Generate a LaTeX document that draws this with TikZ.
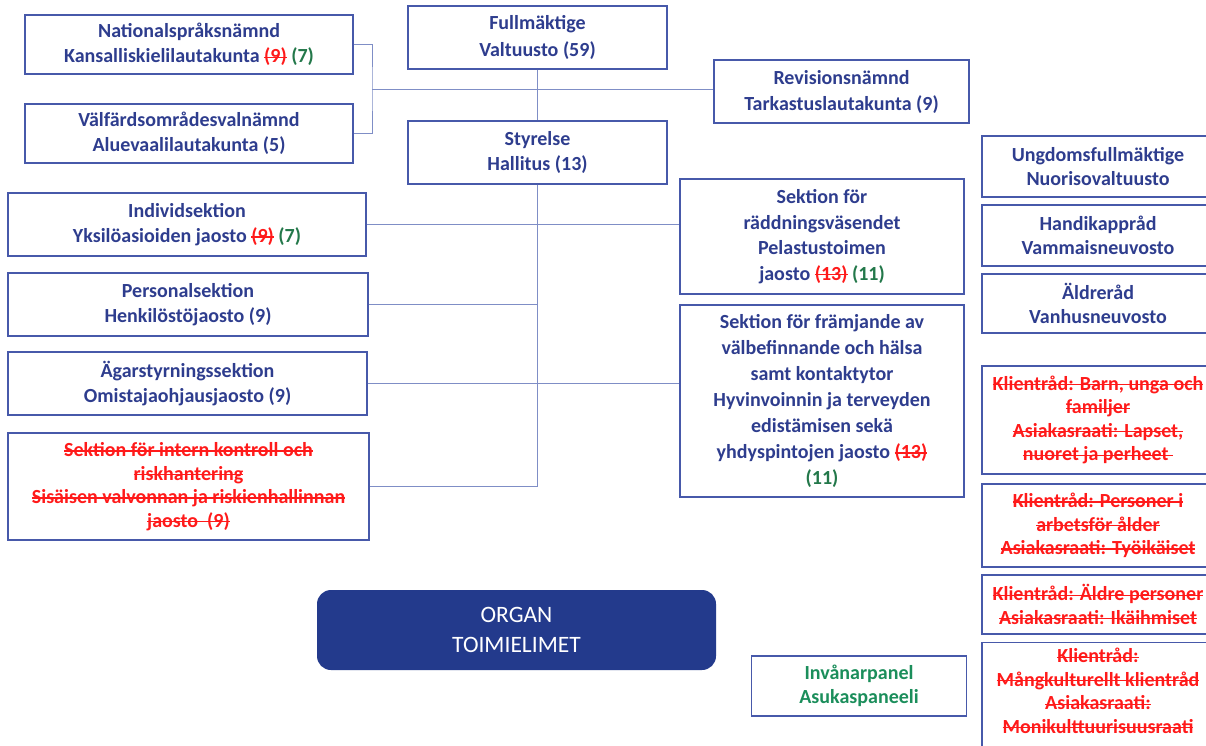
\documentclass[tikz,border=0pt]{standalone}
\usepackage{fontspec}
\setmainfont{Carlito}
\definecolor{txtblue}{HTML}{2E3D8E}
\definecolor{boxblue}{HTML}{4759AA}
\definecolor{lineblue}{HTML}{7F8EC6}
\definecolor{strred}{HTML}{FF1A1A}
\definecolor{dgreen}{HTML}{23784A}
\definecolor{pgreen}{HTML}{1B8E5B}
\definecolor{organblue}{HTML}{233A8C}
\newcommand\strk[1]{\textcolor{strred}{\setbox0\hbox{#1}\rlap{\rule[0.25em]{\wd0}{1.3pt}}\box0}}
\newcommand\grn[1]{\textcolor{dgreen}{#1}}
\tikzset{
  box/.style={draw=boxblue, line width=1.4pt, text=txtblue, align=center, inner sep=0pt,
    font=\bfseries\fontsize{20}{25.5}\selectfont},
  tight/.style={font=\bfseries\fontsize{20}{23.5}\selectfont},
  conn/.style={draw=lineblue, line width=0.9pt},
  organbox/.style={fill=organblue, rounded corners=14pt, inner sep=0pt,
    text=white, align=center, font=\fontsize{23.5}{30}\selectfont},
}
\begin{document}
\begin{tikzpicture}[x=1pt,y=-1pt]
\useasboundingbox (0,0) rectangle (1206,746);
\fill[white] (0,0) rectangle (1206,746);
% left column
\node[box, minimum width=328, minimum height=59] (nat) at (189,44.5) {Nationalspråksnämnd\\Kansalliskielilautakunta \strk{(9)} \grn{(7)}};
\node[box, minimum width=328, minimum height=59] (val) at (189,133.5) {Välfärdsområdesvalnämnd\\Aluevaalilautakunta (5)};
% center
\node[box, font=\bfseries\fontsize{20}{26.5}\selectfont, minimum width=259, minimum height=63] (full) at (537.5,37.5) {Fullmäktige\\Valtuusto (59)};
\node[box, font=\bfseries\fontsize{20}{26}\selectfont, minimum width=255, minimum height=63] (rev) at (841.5,91.5) {Revisionsnämnd\\Tarkastuslautakunta (9)};
\node[box, minimum width=259, minimum height=63] (sty) at (537.5,152.5) {Styrelse\\Hallitus (13)};
% sections left
\node[box, minimum width=358, minimum height=63] (ind) at (187,224.5) {Individsektion\\Yksilöasioiden jaosto \strk{(9)} \grn{(7)}};
\node[box, minimum width=360, minimum height=63] (per) at (188,304.5) {Personalsektion\\Henkilöstöjaosto (9)};
\node[box, minimum width=359, minimum height=63] (aga) at (187.5,383.5) {Ägarstyrningssektion\\Omistajaohjausjaosto (9)};
\node[box, tight, minimum width=361, minimum height=107] (int) at (188.5,486.5) {\strk{Sektion för intern kontroll och}\\\strk{riskhantering}\\\strk{Sisäisen valvonnan ja riskienhallinnan}\\\strk{jaosto\ \ (9)}};
% sections right
\node[box, minimum width=284, minimum height=115] (rad) at (822,236.5) {Sektion för\\räddningsväsendet\\Pelastustoimen\\jaosto \strk{(13)} \grn{(11)}};
\node[box, font=\bfseries\fontsize{20}{26}\selectfont, minimum width=284, minimum height=192] (fra) at (822,401) {Sektion för främjande av\\välbefinnande och hälsa\\samt kontaktytor\\Hyvinvoinnin ja terveyden\\edistämisen sekä\\yhdyspintojen jaosto \strk{(13)}\\\grn{(11)}};
% far right
\node[box, tight, minimum width=232, minimum height=61] (ung) at (1098,166.5) {Ungdomsfullmäktige\\Nuorisovaltuusto};
\node[box, tight, minimum width=232, minimum height=61] (han) at (1098,235.5) {Handikappråd\\Vammaisneuvosto};
\node[box, tight, minimum width=232, minimum height=59] (ald) at (1098,303.5) {Äldreråd\\Vanhusneuvosto};
\node[box, tight, minimum width=232, minimum height=108] (kb) at (1098,420) {\strk{Klientråd: Barn, unga och}\\\strk{familjer}\\\strk{Asiakasraati: Lapset,}\\\strk{nuoret ja perheet }};
\node[box, tight, minimum width=232, minimum height=83] (kp) at (1098,525.5) {\strk{Klientråd: Personer i}\\\strk{arbetsför ålder}\\\strk{Asiakasraati: Työikäiset}};
\node[box, tight, minimum width=232, minimum height=59] (ka) at (1098,604.5) {\strk{Klientråd: Äldre personer}\\\strk{Asiakasraati: Ikäihmiset}};
\node[box, tight, minimum width=232, minimum height=118, anchor=north] (km) at (1098,642) {\strk{Klientråd:}\\\strk{Mångkulturellt klientråd}\\\strk{Asiakasraati:}\\\strk{Monikulttuurisuusraati}\\[-2pt]\ };
% bottom
\node[organbox, minimum width=399, minimum height=80] (organ) at (516.5,630) {ORGAN\\TOIMIELIMET};
\node[box, tight, minimum width=215, minimum height=60, text=pgreen] (inv) at (859,686) {Invånarpanel\\Asukaspaneeli};
% connectors
\coordinate (bk) at (372,89);
\draw[conn] (nat.east) -| (bk) |- (val.east);
\draw[conn] (bk) -- (bk -| rev.west);
\draw[conn] (full.south) -- (sty.north);
\draw[conn] (sty.south) -- (sty.south |- int.east) -- (int.east);
\draw[conn] (ind.east) -- (ind.east -| rad.west);
\draw[conn] (per.east) -- (per.east -| sty.south);
\draw[conn] (aga.east) -- (aga.east -| fra.west);
\end{tikzpicture}
\end{document}
